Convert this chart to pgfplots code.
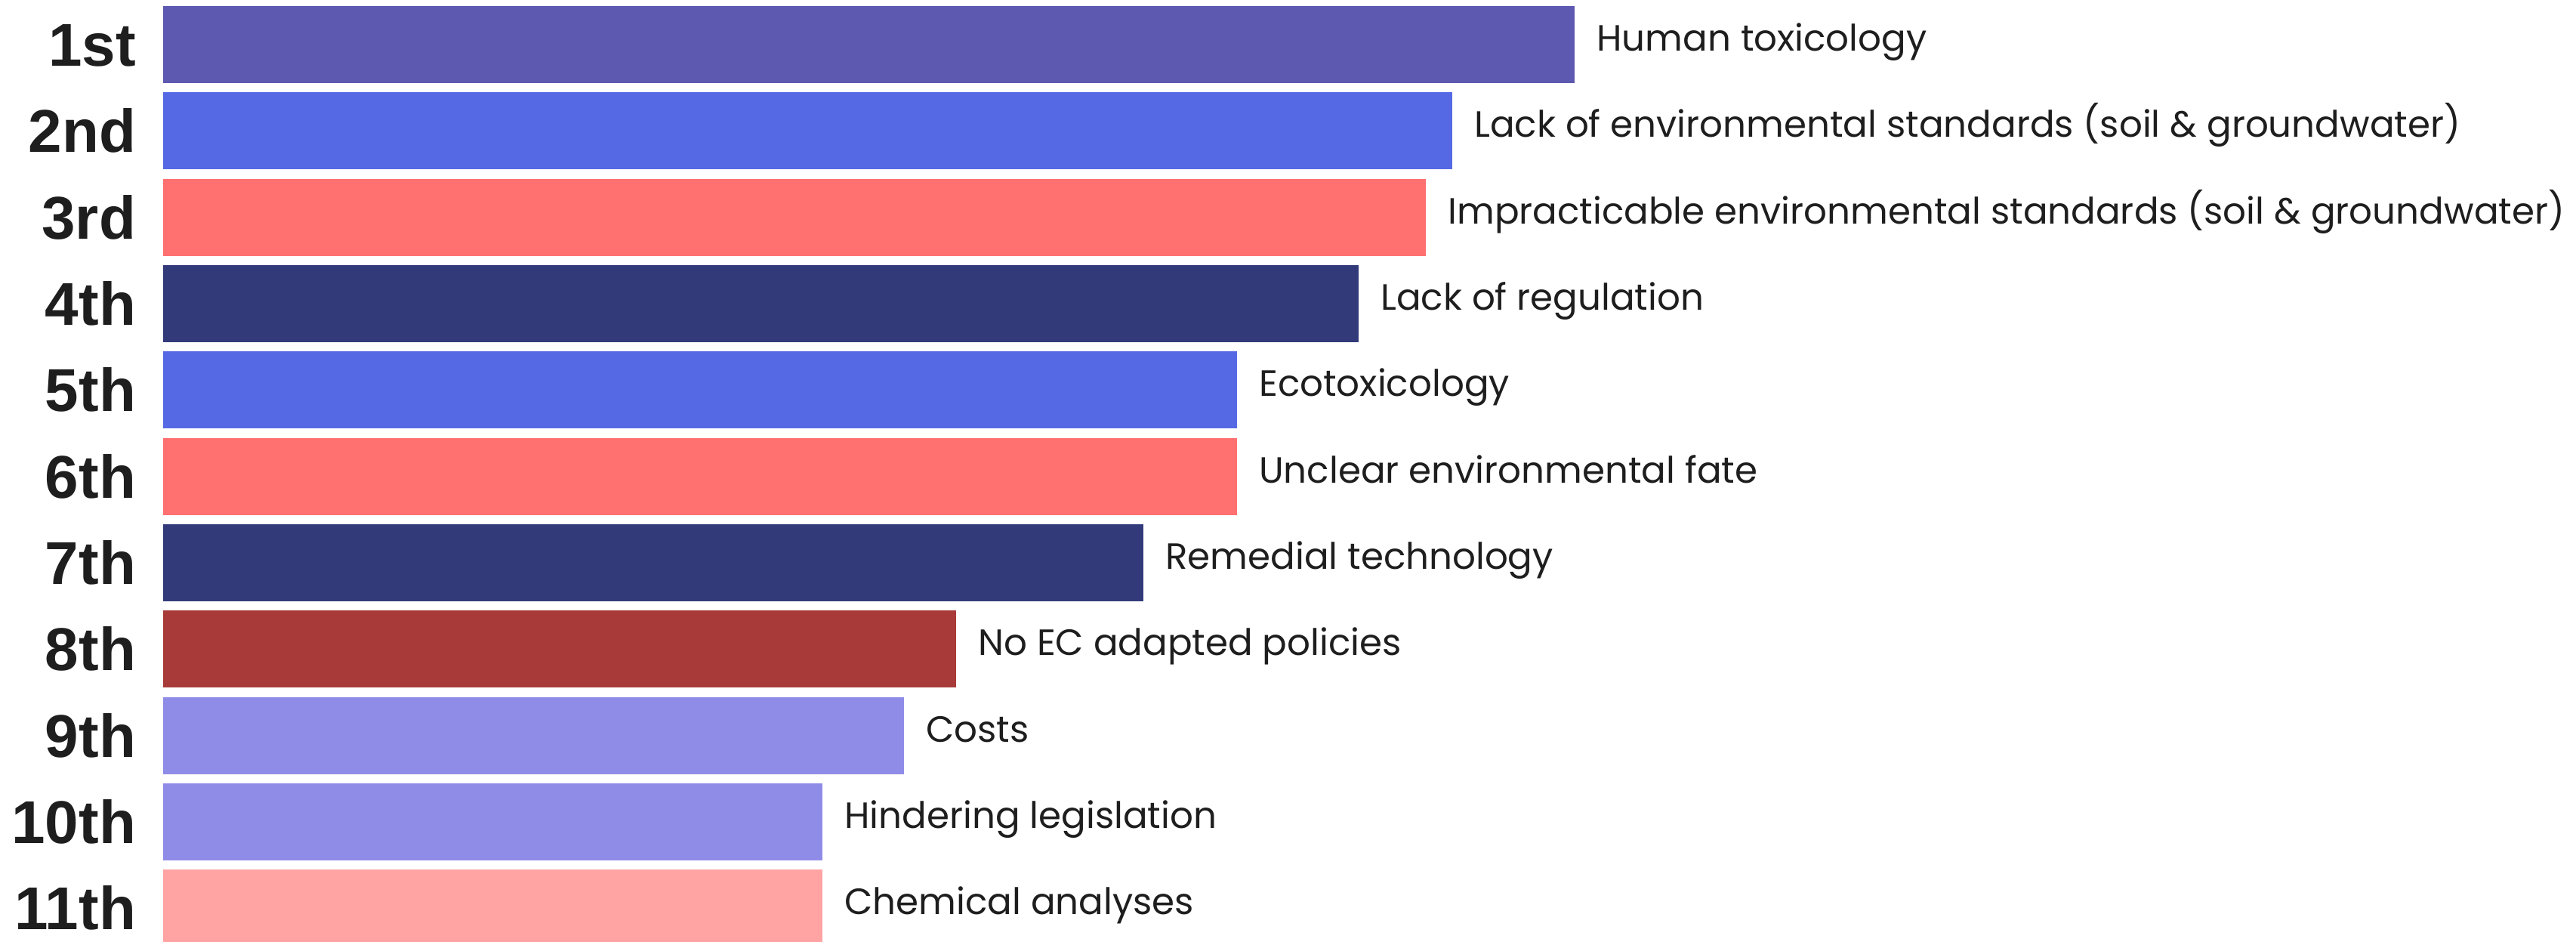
\documentclass[border=0pt]{standalone}
\usepackage{fontspec}
\setmainfont{Liberation Sans}
\newfontfamily\labelfont{Poppins}
\usepackage{pgfplots}
\pgfplotsset{compat=1.18}
\definecolor{c1}{RGB}{94,89,176}
\definecolor{c2}{RGB}{86,105,228}
\definecolor{c3}{RGB}{255,112,112}
\definecolor{c4}{RGB}{50,58,122}
\definecolor{c8}{RGB}{168,58,58}
\definecolor{c9}{RGB}{143,140,232}
\definecolor{c11}{RGB}{255,163,163}
\definecolor{txt}{RGB}{30,30,30}
\begin{document}
\begin{tikzpicture}
\begin{axis}[
  scale only axis,
  width=479.25pt, height=187.05pt,
  xmin=0, xmax=3195,
  ymin=0.484, ymax=11.391,
  y dir=reverse,
  axis line style={draw=none},
  tick style={draw=none},
  xtick=\empty,
  ytick={1,...,11},
  yticklabels={1st,2nd,3rd,4th,5th,6th,7th,8th,9th,10th,11th},
  yticklabel style={inner sep=0pt, anchor=base east, xshift=-5.2pt, yshift=-4.3pt,
    font=\fontsize{12}{14}\selectfont\bfseries, text=txt},
  every axis plot/.append style={xbar, bar width=15.3pt, bar shift=0pt, draw=none},
  point meta=explicit symbolic,
  nodes near coords,
  nodes near coords style={anchor=base west, inner sep=0pt, xshift=4.2pt, yshift=-1.3pt,
    font=\labelfont\fontsize{7.25}{9}\selectfont, text=txt},
]
\addplot[fill=c1] coordinates {(1869,1) [Human toxicology]};
\addplot[fill=c2] coordinates {(1707,2) [Lack of environmental standards (soil \& groundwater)]};
\addplot[fill=c3] coordinates {(1672,3) [Impracticable environmental standards (soil \& groundwater)]};
\addplot[fill=c4] coordinates {(1583,4) [Lack of regulation]};
\addplot[fill=c2] coordinates {(1422,5) [Ecotoxicology]};
\addplot[fill=c3] coordinates {(1422,6) [Unclear environmental fate]};
\addplot[fill=c4] coordinates {(1298,7) [Remedial technology]};
\addplot[fill=c8] coordinates {(1050,8) [No EC adapted policies]};
\addplot[fill=c9] coordinates {(981,9) [Costs]};
\addplot[fill=c9] coordinates {(873,10) [Hindering legislation]};
\addplot[fill=c11] coordinates {(873,11) [Chemical analyses]};
\end{axis}
\pgfresetboundingbox
\useasboundingbox ([xshift=-32.4pt]current axis.south west) rectangle (current axis.north east);
\end{tikzpicture}
\end{document}
